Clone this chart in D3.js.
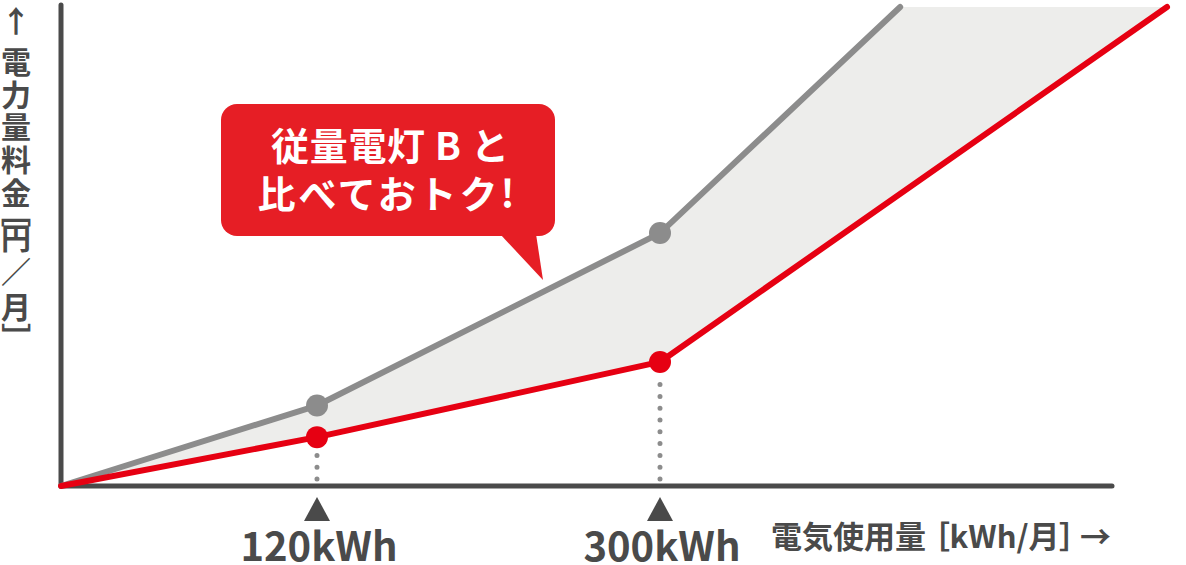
<!DOCTYPE html>
<html><head><meta charset="utf-8">
<script src="https://cdn.jsdelivr.net/npm/d3@7"></script>
<style>
html,body{margin:0;padding:0;background:#fff;}
svg{display:block;font-family:"Noto Sans CJK JP","Noto Sans",sans-serif;}
</style></head>
<body>
<svg id="chart" width="1186" height="565"></svg>
<script>
// ---- data ----
const standardKwh = [0, 120, 300, 426];      // 従量電灯B (gray)
const standardYen = [0, 16.8, 52.8, 100];
const planKwh = [0, 120, 300, 566];          // plan (red)
const planYen = [0, 10.2, 25.9, 100];
const markerKwh = [120, 300];
const tickLabels = ["120kWh", "300kWh"];
const yTitleChars = ["↑","電","力","量","料","金","［","円","／","月","］"];
const xTitleParts = ["電気使用量", "［kWh/月］", "→"];
const calloutLines = ["従量電灯 B と", "比べておトク!"];

// ---- setup ----
const svg = d3.select("#chart");
const x = d3.scaleLinear().domain([0, 120, 300, 600]).range([61, 317, 660, 1231.8]);
const y = d3.scaleLinear().domain([0, 100]).range([486, 7]);
const AX = "#4a4a4a", GRAY = "#8c8c8c", RED = "#e60012", FILL = "#ededeb";

const std = standardKwh.map((k, i) => [k, standardYen[i]]);
const plan = planKwh.map((k, i) => [k, planYen[i]]);
const line = d3.line().x(d => x(d[0])).y(d => y(d[1]));

// fill between
svg.append("path")
  .attr("d", line(std.concat(plan.slice().reverse())) + "Z")
  .attr("fill", FILL);

// axes
svg.append("line").attr("x1", x(0)).attr("x2", x(0)).attr("y1", 5).attr("y2", y(0))
  .attr("stroke", AX).attr("stroke-width", 5).attr("stroke-linecap", "round");
svg.append("line").attr("x1", x(0)).attr("x2", 1112).attr("y1", y(0)).attr("y2", y(0))
  .attr("stroke", AX).attr("stroke-width", 5).attr("stroke-linecap", "round");

// dotted guides
markerKwh.forEach(k => {
  const yy = y(planYen[planKwh.indexOf(k)]);
  svg.append("line").attr("x1", x(k)).attr("x2", x(k))
    .attr("y1", y(0) - 7).attr("y2", yy + 18)
    .attr("stroke", GRAY).attr("stroke-width", 5).attr("stroke-linecap", "round")
    .attr("stroke-dasharray", "0 11.8");
});

// lines
svg.append("path").attr("d", line(std)).attr("fill", "none")
  .attr("stroke", GRAY).attr("stroke-width", 6).attr("stroke-linecap", "round").attr("stroke-linejoin", "round");
svg.append("path").attr("d", line(plan)).attr("fill", "none")
  .attr("stroke", RED).attr("stroke-width", 6).attr("stroke-linecap", "round").attr("stroke-linejoin", "round");

// markers
markerKwh.forEach(k => {
  svg.append("circle").attr("cx", x(k)).attr("cy", y(standardYen[standardKwh.indexOf(k)])).attr("r", 11).attr("fill", GRAY);
  svg.append("circle").attr("cx", x(k)).attr("cy", y(planYen[planKwh.indexOf(k)])).attr("r", 11).attr("fill", RED);
});

// tick triangles and labels
markerKwh.forEach((k, i) => {
  const cx = x(k);
  svg.append("path").attr("d", `M${cx},497 L${cx + 13},521 L${cx - 13},521 Z`).attr("fill", AX);
  svg.append("text").attr("x", cx + 2).attr("y", 561).attr("text-anchor", "middle")
    .attr("font-size", 40).attr("font-weight", 700).attr("fill", AX).text(tickLabels[i]);
});

// x title
const xt = svg.append("g").attr("font-size", 31).attr("font-weight", 700).attr("fill", AX);
xt.append("text").attr("x", 771).attr("y", 548).attr("text-anchor", "start").text(xTitleParts[0]);
xt.append("text").attr("x", 1075).attr("y", 548).attr("text-anchor", "end")
  .style("font-feature-settings", "'palt'").text(xTitleParts[1]);
xt.append("text").attr("x", 1111).attr("y", 548).attr("text-anchor", "end").text(xTitleParts[2]);

// y title (stacked vertical)
const isBr = c => c === "［" || c === "］";
const gapBefore = (c, prev) => {
  if (prev === "↑") return 41;
  if (c === "［") return 19;
  if (prev === "［") return 25.5;
  if (c === "］") return 31;
  if (c === "／" || prev === "／") return 34.7;
  return 32.8;
};
const yCenters = [];
yTitleChars.forEach((c, i) => {
  yCenters.push(i === 0 ? 21 : yCenters[i - 1] + gapBefore(c, yTitleChars[i - 1]));
});
const yt = svg.append("g").attr("font-size", 30).attr("font-weight", 700).attr("fill", AX);
yTitleChars.forEach((c, i) => {
  const t = yt.append("text").attr("text-anchor", "middle").attr("dy", "0.36em").text(c);
  if (isBr(c)) {
    t.attr("transform", `translate(16,${yCenters[i]}) rotate(90)`);
  } else {
    t.attr("x", 16).attr("y", yCenters[i]);
  }
});

// callout
const callout = svg.append("g");
callout.append("rect").attr("x", 221).attr("y", 104).attr("width", 334).attr("height", 132)
  .attr("rx", 16).attr("fill", "#e61e25");
callout.append("path").attr("d", "M500,234 L543,280 L536,234 Z").attr("fill", "#e61e25");
const lineCx = [390, 386], lineLen = [238, 257];
callout.selectAll("text.c").data(calloutLines).join("text").attr("class", "c")
  .attr("x", (d, i) => lineCx[i] - lineLen[i] / 2).attr("y", (d, i) => 160 + i * 48)
  .attr("textLength", (d, i) => lineLen[i]).attr("lengthAdjust", "spacing")
  .attr("font-size", 38).attr("font-weight", 700)
  .attr("fill", "#fff").text(d => d);
</script>
</body></html>
